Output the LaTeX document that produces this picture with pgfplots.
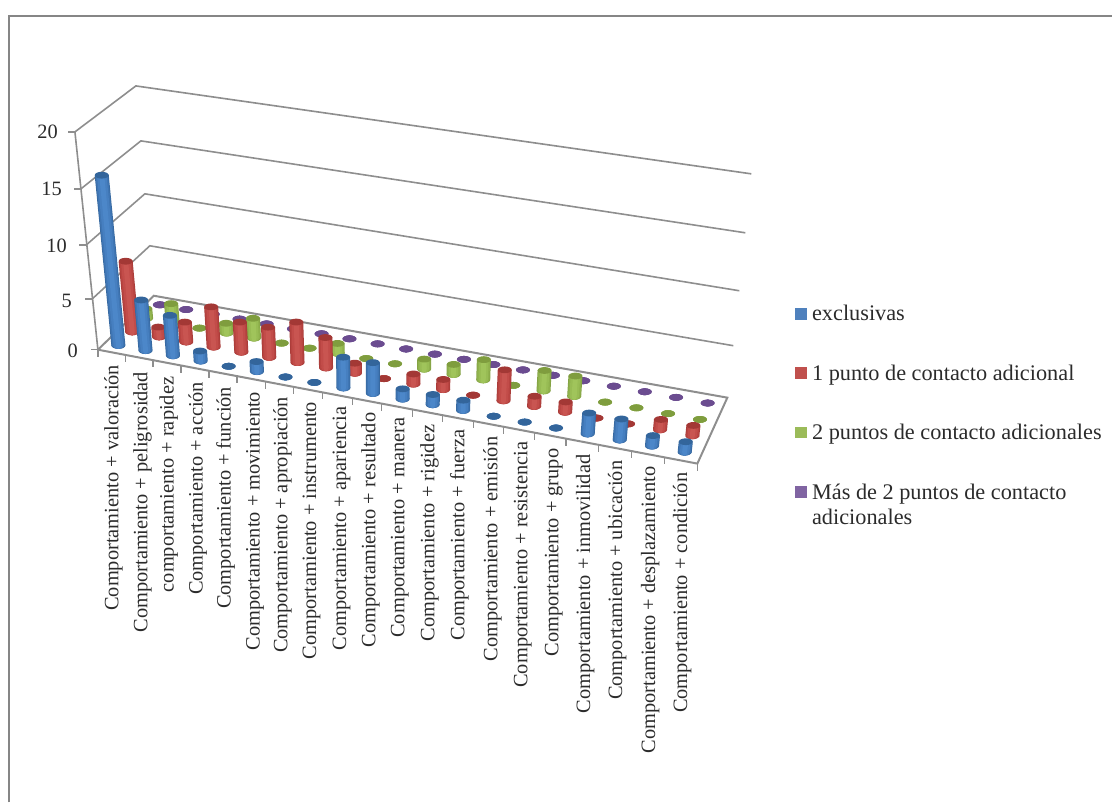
\documentclass[border=0pt]{standalone}
\usepackage{fontspec}
\usepackage{pgfplots}
\usepackage{pgfplotstable}
\pgfplotsset{compat=1.18}
\setmainfont{Liberation Serif}

% Values per category: index, then one column per series
\pgfplotstableread{
cat exclusivas uno dos mas
1   16  7  1  0
2    5  1  2  0
3    4  2  0  0
4    1  4  1  0
5    0  3  2  0
6    1  3  0  0
7    0  4  0  0
8    0  3  1  0
9    3  1  0  0
10   3  0  0  0
11   1  1  1  0
12   1  1  1  0
13   1  0  2  0
14   0  3  0  0
15   0  1  2  0
16   0  1  2  0
17   2  0  0  0
18   2  0  0  0
19   1  1  0  0
20   1  1  0  0
}\datatable

\definecolor{gridgray}{HTML}{8E8E8E}
\definecolor{framegray}{HTML}{868686}
\definecolor{labeltext}{HTML}{2B2B2B}
\definecolor{keyblue}{HTML}{4F81BD}
\definecolor{keyred}{HTML}{C0504D}
\definecolor{keygreen}{HTML}{9BBB59}
\definecolor{keypurple}{HTML}{8064A2}
\definecolor{blueA}{HTML}{36689F}
\definecolor{blueB}{HTML}{3F75B3}
\definecolor{blueC}{HTML}{467FC0}
\definecolor{blueD}{HTML}{4C87C9}
\definecolor{blueCap}{HTML}{33659B}
\definecolor{redA}{HTML}{A83B38}
\definecolor{redB}{HTML}{B84441}
\definecolor{redC}{HTML}{C24C49}
\definecolor{redD}{HTML}{C95551}
\definecolor{redCap}{HTML}{A33835}
\definecolor{greenA}{HTML}{83A143}
\definecolor{greenB}{HTML}{8FB14C}
\definecolor{greenC}{HTML}{98BC54}
\definecolor{greenD}{HTML}{A0C45B}
\definecolor{greenCap}{HTML}{7F9D3E}
\definecolor{purpleA}{HTML}{6B4C90}

\pgfdeclareplotmark{cyl}{%
  \pgfpathellipse{\pgfpointorigin}{\pgfqpoint{7pt}{0pt}}{\pgfqpoint{0pt}{3.4pt}}%
  \pgfusepathqfill}

% One shade layer of a series: #1 column, #2 depth, #3 colour, #4 width
\newcommand{\cylinderlayer}[4]{%
  \addplot[forget plot,only marks,mark=cyl,color=#3,mark options={xscale=#4/14}]
    table[x expr={Fx(\thisrow{cat},#2,0)},y expr={Fy(\thisrow{cat},#2,0)}] {\datatable};
  \addplot[forget plot,color=#3,line width=#4pt,
    quiver={u={Fx(\thisrow{cat},#2,\thisrow{#1})-Fx(\thisrow{cat},#2,0)},
            v={Fy(\thisrow{cat},#2,\thisrow{#1})-Fy(\thisrow{cat},#2,0)}}]
    table[x expr={Fx(\thisrow{cat},#2,0)},y expr={Fy(\thisrow{cat},#2,0)}] {\datatable};
}
% Cylinders of one series: #1 column, #2 depth, #3-#6 shades from rim to core, #7 cap colour
\newcommand{\cylinders}[7]{%
  \cylinderlayer{#1}{#2}{#3}{14}
  \cylinderlayer{#1}{#2}{#4}{12.5}
  \cylinderlayer{#1}{#2}{#5}{9.5}
  \cylinderlayer{#1}{#2}{#6}{5}
  \addplot[forget plot,only marks,mark=cyl,color=#7]
    table[x expr={Fx(\thisrow{cat},#2,\thisrow{#1})},y expr={Fy(\thisrow{cat},#2,\thisrow{#1})}] {\datatable};
}

\begin{document}
\begin{tikzpicture}
\begin{axis}[
  scale only axis,width=1113pt,height=803pt,
  xmin=0,xmax=1113,ymin=0,ymax=803,y dir=reverse,
  axis lines=none,clip=false,clip mode=individual,
  declare function={
    Tw(\k)=((\k-0.5)/20)/(1+0.108*(1-(\k-0.5)/20));
    Zw(\v)=(\v/20)/(1+0.1*(1-\v/20));
    Bi(\t,\s,\a,\b,\c,\d)=(1-\s)*((1-\t)*\a+\t*\b)+\s*((1-\t)*\c+\t*\d);
    Fx(\k,\s,\v)=(1-Zw(\v))*Bi(Tw(\k),\s,98,698,154,728)+Zw(\v)*Bi(Tw(\k),\s,75,725,136,752);
    Fy(\k,\s,\v)=(1-Zw(\v))*Bi(Tw(\k),\s,350,464,296,398)+Zw(\v)*Bi(Tw(\k),\s,132,232,86,174);
  },
  legend style={at={(axis cs:796,303)},anchor=north west,draw=none,fill=none,
    font=\fontsize{22.3}{25}\selectfont,text=labeltext,
    row sep=33.5pt,column sep=4pt,inner sep=0pt,
    nodes={text height=16pt,text depth=6pt},
    cells={anchor=base west}},
  legend cell align=left,
]
% full page extent
\path (axis cs:0,0) rectangle (axis cs:1113,803);
% outer frame (top and left sides)
\addplot[forget plot,framegray,line width=2pt] coordinates {(9,803) (9,16) (1113,16)};

% gridlines across the side wall and the back wall
\addplot[forget plot,gridgray,line width=1.6pt] coordinates {(75,132) (136,86) (752,174)};
\addplot[forget plot,gridgray,line width=1.6pt] coordinates {(81,189) (141,141) (746,233)};
\addplot[forget plot,gridgray,line width=1.6pt] coordinates {(86.5,245) (145,194) (740,291)};
\addplot[forget plot,gridgray,line width=1.6pt] coordinates {(92.5,299) (150,246) (734,346)};
% floor outline, value axis and tick marks
\addplot[forget plot,gridgray,line width=2pt] coordinates {(98,350) (154,296) (728,398) (698,464) (98,350)};
\addplot[forget plot,gridgray,line width=1.6pt] coordinates {(98,350) (75,132)};
\addplot[forget plot,gridgray,line width=1.6pt] coordinates {(98,350) (91,350)};
\addplot[forget plot,gridgray,line width=1.6pt] coordinates {(92.5,299) (85,299)};
\addplot[forget plot,gridgray,line width=1.6pt] coordinates {(86.5,245) (79,245)};
\addplot[forget plot,gridgray,line width=1.6pt] coordinates {(81,189) (74,189)};
\addplot[forget plot,gridgray,line width=1.6pt] coordinates {(75,132) (68,132)};
\addplot[forget plot,gridgray,line width=1.5pt,quiver={u=0,v=7}] coordinates {
  (98,350) (125.7,355.3) (153,360.5) (181,365.9) (209,371.2) (237,376.5) (265.7,382)
  (294,387.3) (323,392.8) (352.7,398.5) (382,404) (413,410) (443,415.7) (474,421.6)
  (504,427.3) (535,433.2) (566.7,439.2) (599,445.3) (632,451.5) (665,457.8) (698,464)};

% cylinders, from the back row to the front row
\cylinders{mas}{0.875}{purpleA}{purpleA}{purpleA}{purpleA}{purpleA}
\cylinders{dos}{0.625}{greenA}{greenB}{greenC}{greenD}{greenCap}
\cylinders{uno}{0.375}{redA}{redB}{redC}{redD}{redCap}
\cylinders{exclusivas}{0.125}{blueA}{blueB}{blueC}{blueD}{blueCap}

% value labels
\node[anchor=east,inner sep=0pt,text=labeltext,font=\fontsize{20.4}{22}\selectfont] at (axis cs:78,351) {0};
\node[anchor=east,inner sep=0pt,text=labeltext,font=\fontsize{20.4}{22}\selectfont] at (axis cs:72,301) {5};
\node[anchor=east,inner sep=0pt,text=labeltext,font=\fontsize{20.4}{22}\selectfont] at (axis cs:67,246) {10};
\node[anchor=east,inner sep=0pt,text=labeltext,font=\fontsize{20.4}{22}\selectfont] at (axis cs:62,189) {15};
\node[anchor=east,inner sep=0pt,text=labeltext,font=\fontsize{20.4}{22}\selectfont] at (axis cs:58,132) {20};

% category labels
\foreach \px/\py/\txt in {
  114.7/365/Comportamiento + valoración,
  143.7/372/Comportamiento + peligrosidad,
  170/377/comportamiento + rapidez,
  199/382/Comportamiento + acción,
  227/387/Comportamiento + función,
  256/392/Comportamiento + movimiento,
  284/397/Comportamiento + apropiación,
  312.7/402/Comportamiento + instrumento,
  342.7/407/Comportamiento + apariencia,
  372/413/Comportamiento + resultado,
  401/418/Comportamiento + manera,
  431/425/Comportamiento + rigidez,
  461/430/Comportamiento + fuerza,
  494/437/Comportamiento + emisión,
  524/442/Comportamiento + resistencia,
  555/449/Comportamiento + grupo,
  587/455/Comportamiento + inmovilidad,
  619/461/Comportamiento + ubicación,
  652/467/Comportamiento + desplazamiento,
  684/473/Comportamiento + condición}{
  \edef\temp{\noexpand\node[rotate=90,anchor=east,inner sep=0pt,text=labeltext,
    font=\noexpand\fontsize{20.4}{22}\noexpand\selectfont,
    text height=12pt,text depth=4.5pt] at (axis cs:\px,\py) {\txt};}
  \temp
}

% legend keys
\addlegendimage{only marks,mark=square*,mark size=5.3pt,mark options={fill=keyblue,draw=keyblue,yshift=2.5pt}}
\addlegendentry{exclusivas}
\addlegendimage{only marks,mark=square*,mark size=5.3pt,mark options={fill=keyred,draw=keyred,yshift=2.5pt}}
\addlegendentry{1 punto de contacto adicional}
\addlegendimage{only marks,mark=square*,mark size=5.3pt,mark options={fill=keygreen,draw=keygreen,yshift=2.5pt}}
\addlegendentry{2 puntos de contacto adicionales}
\addlegendimage{only marks,mark=square*,mark size=5.3pt,mark options={fill=keypurple,draw=keypurple,yshift=2.5pt}}
\addlegendentry{\parbox[t]{285pt}{Más de 2 puntos de contacto\\adicionales}}
\end{axis}
\end{tikzpicture}
\end{document}
